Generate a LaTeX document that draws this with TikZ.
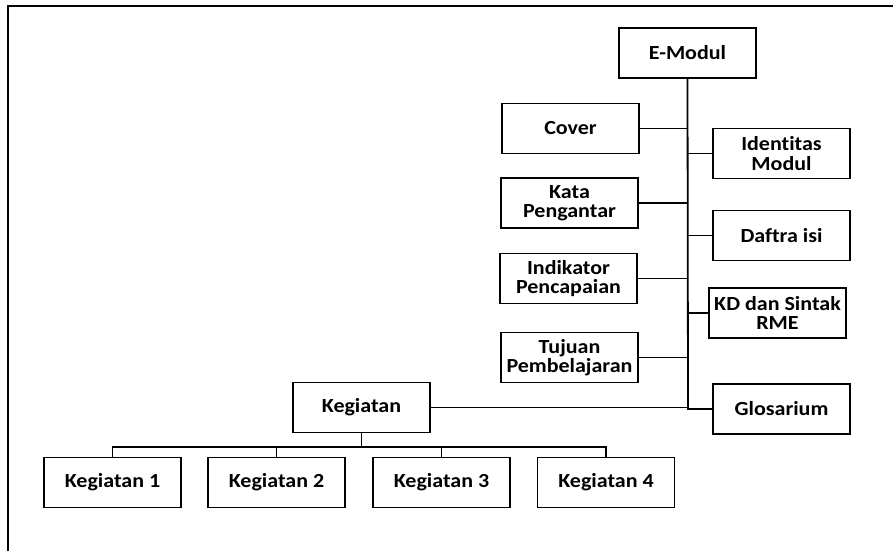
\documentclass[tikz,border=0pt]{standalone}
\usepackage{fontspec}
\newfontfamily\labfont{Carlito}[FakeStretch=1.1,Ligatures=NoCommon]
\begin{document}
\begin{tikzpicture}[x=1pt,y=-1pt,
  box/.style={draw,line width=1.8pt,minimum width=137pt,minimum height=50pt,inner sep=0pt,align=center,
    font=\labfont\bfseries\fontsize{20}{19.5}\selectfont},
  conn/.style={line width=1.8pt}]
\useasboundingbox (0,0) rectangle (893,551);
\draw[line width=2pt] (8,551) -- (8,6) -- (893,6);
\node[box] (emodul) at (687.5,53) {E-Modul};
\node[box] (cover) at (570.5,128.5) {Cover};
\node[box] (kata) at (569.5,203) {Kata\\Pengantar};
\node[box] (indik) at (568.5,278.5) {Indikator\\Pencapaian};
\node[box] (tujuan) at (569.5,357.5) {Tujuan\\Pembelajaran};
\node[box] (ident) at (781.5,153.5) {Identitas\\Modul};
\node[box] (daftra) at (781.5,235.5) {Daftra isi};
\node[box] (kd) at (777.5,313) {KD dan Sintak\\RME};
\node[box] (glos) at (781.5,409) {Glosarium};
\node[box] (keg) at (361.5,407.5) {Kegiatan};
\node[box] (k1) at (112.5,482.5) {Kegiatan 1};
\node[box] (k2) at (276.5,482.5) {Kegiatan 2};
\node[box] (k3) at (441.5,482.5) {Kegiatan 3};
\node[box] (k4) at (606,482.5) {Kegiatan 4};
\coordinate (tb) at (688,408);
\coordinate (bus) at (361.5,447);
\draw[conn] (emodul.south) -- (tb);
\draw[conn] (cover.east) -- (cover.east -| tb);
\draw[conn] (kata.east) -- (kata.east -| tb);
\draw[conn] (indik.east) -- (indik.east -| tb);
\draw[conn] (tujuan.east) -- (tujuan.east -| tb);
\draw[conn] (ident.west) -- (ident.west -| tb);
\draw[conn] (daftra.west) -- (daftra.west -| tb);
\draw[conn] (kd.west) -- (kd.west -| tb);
\draw[conn] (glos.west) -| (tb);
\draw[conn] (keg.east) -- (keg.east -| tb);
\draw[conn] (keg.south) -- (bus);
\draw[conn] (k1.north) |- (bus) -| (k4.north);
\draw[conn] (k2.north) -- (k2.north |- bus);
\draw[conn] (k3.north) -- (k3.north |- bus);
\end{tikzpicture}
\end{document}
